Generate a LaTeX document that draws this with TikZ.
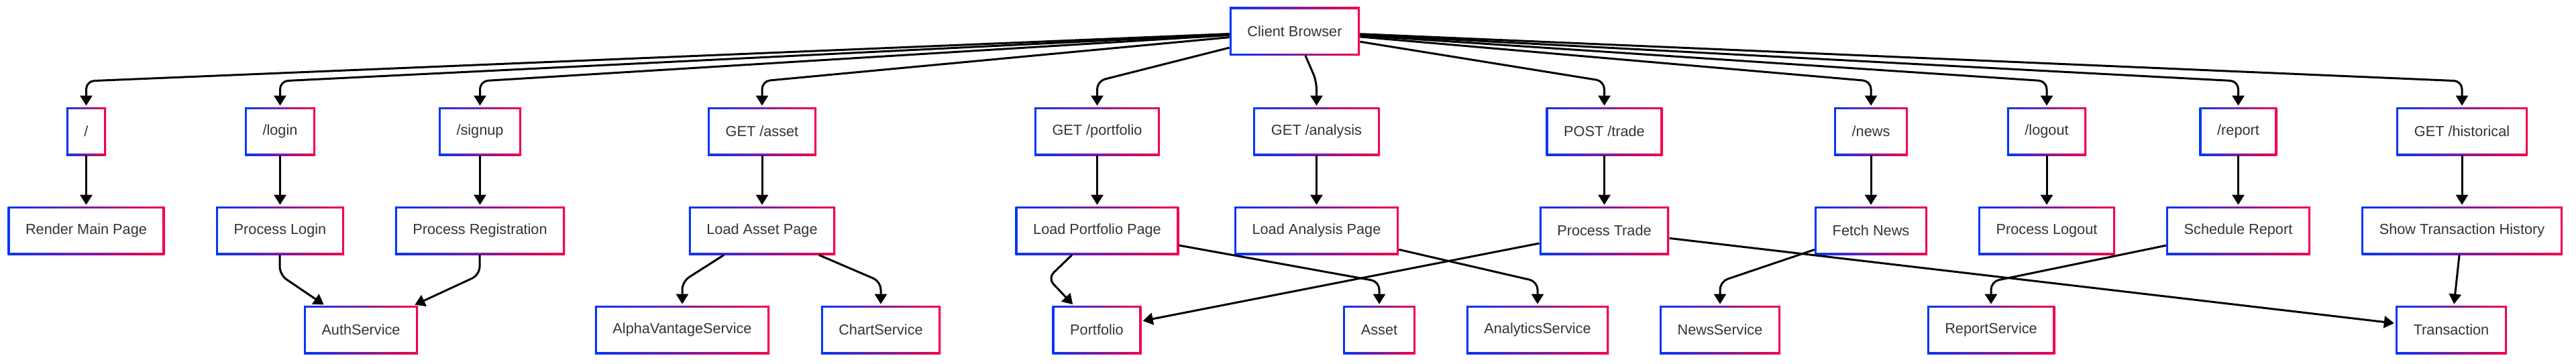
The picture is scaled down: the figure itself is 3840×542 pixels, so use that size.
\documentclass[tikz,border=0pt]{standalone}
\usepackage{fontspec}
\setmainfont{Liberation Sans}
\usetikzlibrary{arrows.meta,shadows}
\definecolor{edgeblue}{RGB}{5,55,245}
\definecolor{edgered}{RGB}{245,0,75}
\definecolor{textgray}{RGB}{51,51,51}
\tikzset{
  box/.style={rectangle, minimum height=36pt, inner xsep=13.25pt, inner ysep=0pt,
    text=textgray, font=\fontsize{10.85}{13}\selectfont,
    left color=edgeblue, right color=edgered,
    drop shadow={shadow xshift=0.7pt, shadow yshift=-0.7pt, opacity=0.12},
    path picture={\fill[white] ([shift={(1.5pt,1.5pt)}]path picture bounding box.south west)
      rectangle ([shift={(-1.5pt,-1.5pt)}]path picture bounding box.north east);}},
  link/.style={draw=black, line width=1.5pt, rounded corners=6pt,
    -{Triangle[length=7.5pt,width=9pt]}, shorten >=1pt}
}
\begin{document}
\begin{tikzpicture}[x=0.5pt, y=-0.5pt]
  \useasboundingbox (0,0) rectangle (3840,542);
  \node[box] (cb) at (1930,46.5) {Client Browser};

  % routes and the pages behind them
  \foreach \r/\p/\x/\rt/\pt in {slash/render/128.5/{/}/{Render Main Page},
      login/plogin/417.5/{/login}/{Process Login},
      signup/preg/715.5/{/signup}/{Process Registration},
      asset/lasset/1136/{GET /asset}/{Load Asset Page},
      portfolio/lportfolio/1635.5/{GET /portfolio}/{Load Portfolio Page},
      analysis/lanalysis/1962.5/{GET /analysis}/{Load Analysis Page},
      trade/ptrade/2391.5/{POST /trade}/{Process Trade},
      news/fnews/2789/{/news}/{Fetch News},
      logout/plogout/3051/{/logout}/{Process Logout},
      report/sreport/3336.5/{/report}/{Schedule Report},
      historical/hist/3670/{GET /historical}/{Show Transaction History}} {
    \node[box] (\r) at (\x,196) {\rt};
    \node[box] (\p) at (\x,344) {\pt};
    \draw[link] (cb) -- (\x,121) -- (\r);
    \draw[link] (\r) -- (\p);
  }

  % services
  \foreach \s/\x/\st in {auth/538/AuthService, alpha/1017/AlphaVantageService,
      chart/1313/ChartService, sportfolio/1635/Portfolio, sasset/2056/Asset,
      analytics/2292/AnalyticsService, snews/2564/NewsService,
      sreportsvc/2968/ReportService, transaction/3654/Transaction}
    \node[box] (\s) at (\x,492) {\st};

  \draw[link] (plogin) -- (417,410) -- (auth);
  \draw[link] (preg) -- (715,410) -- (auth);
  \draw[link] (lasset) -- (1017,420) -- (alpha);
  \draw[link] (lasset) -- (1313,420) -- (chart);
  \draw[link] (lportfolio) -- (1562,415) -- (sportfolio);
  \draw[link] (lportfolio) -- (2056,420) -- (sasset);
  \draw[link] (lanalysis) -- (2292,420) -- (analytics);
  \draw[link] (ptrade) -- (sportfolio);
  \draw[link] (ptrade) -- (transaction);
  \draw[link] (fnews) -- (2564,420) -- (snews);
  \draw[link] (sreport) -- (2968,420) -- (sreportsvc);
  \draw[link] (hist) -- (transaction);
\end{tikzpicture}
\end{document}
